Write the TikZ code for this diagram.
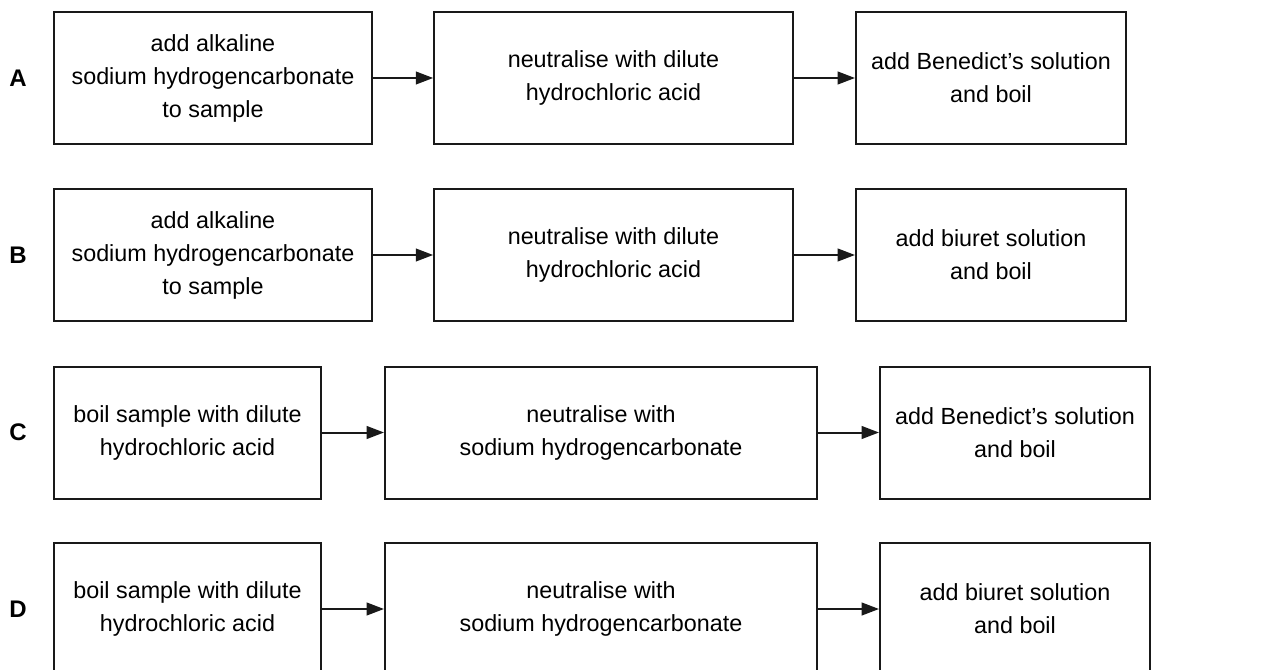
\documentclass[tikz,border=0pt]{standalone}
\usepackage{fontspec}
\setmainfont{Liberation Sans}
\usetikzlibrary{arrows.meta}

\tikzset{
	stepbox/.style={draw=black!90, line width=1.5pt, rectangle, inner sep=0pt,
		minimum height=99pt, align=center, font=\fontsize{17.5}{24.75}\selectfont},
	rowlabel/.style={font=\fontsize{18}{20}\selectfont\bfseries, inner sep=0pt},
	flow/.style={line width=1.5pt, draw=black!90, -{Triangle[length=13pt,width=9.5pt]}}
}

\begin{document}
\begin{tikzpicture}[x=0.75pt, y=-0.75pt]

	\useasboundingbox (0,0) rectangle (1269,670);
	\clip (0,0) rectangle (1269,670);

	% row A
	\node[rowlabel] (labA) at (18,78) {A};
	\node[stepbox, minimum width=238.5pt] (a1) at (213,78) {add alkaline\\sodium hydrogencarbonate\\to sample};
	\node[stepbox, minimum width=269pt] (a2) at (613.5,78) {neutralise with dilute\\hydrochloric acid};
	\node[stepbox, minimum width=202.5pt] (a3) at (991,78) {add Benedict’s solution\\and boil};

	% row B
	\node[rowlabel] (labB) at (18,255) {B};
	\node[stepbox, minimum width=238.5pt] (b1) at (213,255) {add alkaline\\sodium hydrogencarbonate\\to sample};
	\node[stepbox, minimum width=269pt] (b2) at (613.5,255) {neutralise with dilute\\hydrochloric acid};
	\node[stepbox, minimum width=202.5pt] (b3) at (991,255) {add biuret solution\\and boil};

	% row C
	\node[rowlabel] (labC) at (18,432.5) {C};
	\node[stepbox, minimum width=200pt] (c1) at (187.5,432.5) {boil sample with dilute\\hydrochloric acid};
	\node[stepbox, minimum width=324pt] (c2) at (601,432.5) {neutralise with\\sodium hydrogencarbonate};
	\node[stepbox, minimum width=202.5pt] (c3) at (1015,432.5) {add Benedict’s solution\\and boil};

	% row D
	\node[rowlabel] (labD) at (18,609) {D};
	\node[stepbox, minimum width=200pt] (d1) at (187.5,609) {boil sample with dilute\\hydrochloric acid};
	\node[stepbox, minimum width=324pt] (d2) at (601,609) {neutralise with\\sodium hydrogencarbonate};
	\node[stepbox, minimum width=202.5pt] (d3) at (1015,609) {add biuret solution\\and boil};

	\draw[flow] (a1) -- (a2);
	\draw[flow] (a2) -- (a3);
	\draw[flow] (b1) -- (b2);
	\draw[flow] (b2) -- (b3);
	\draw[flow] (c1) -- (c2);
	\draw[flow] (c2) -- (c3);
	\draw[flow] (d1) -- (d2);
	\draw[flow] (d2) -- (d3);
\end{tikzpicture}
\end{document}
